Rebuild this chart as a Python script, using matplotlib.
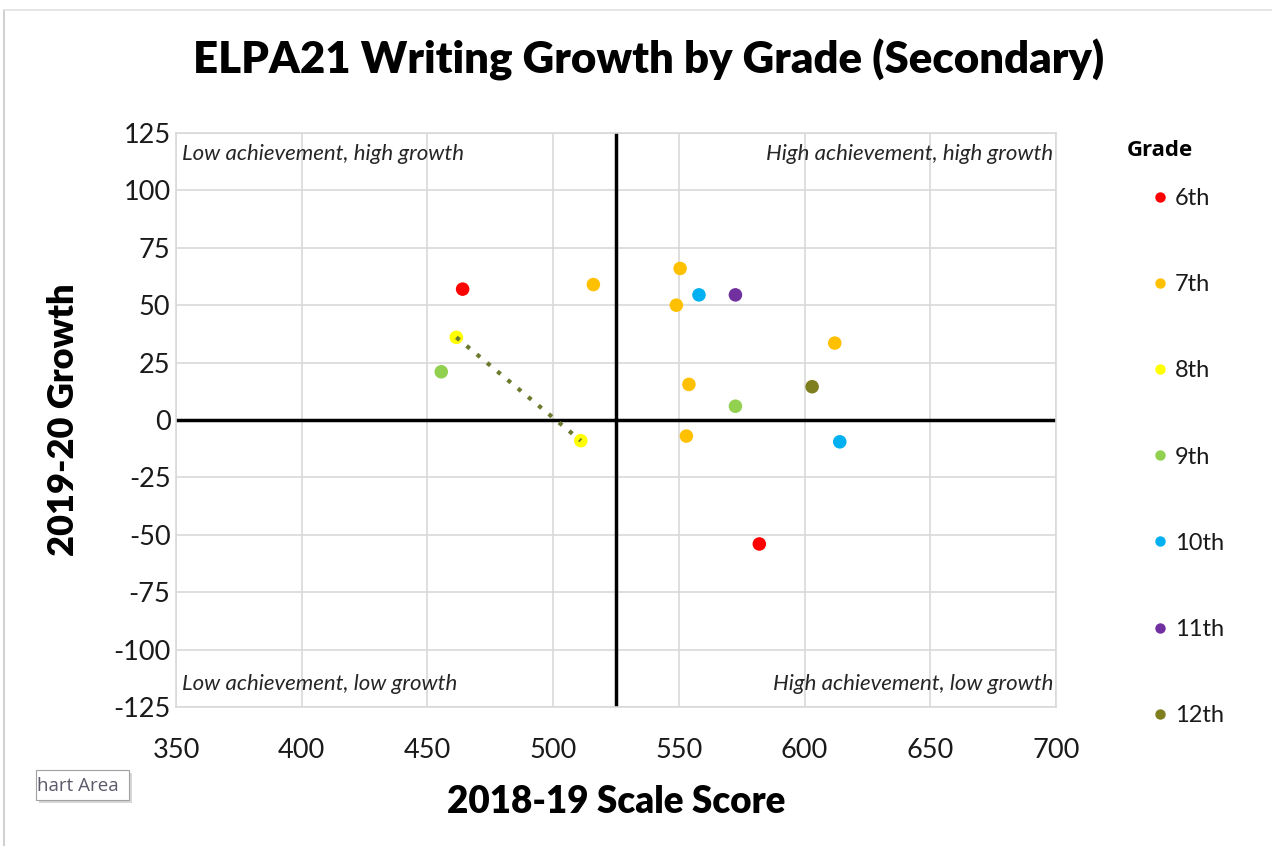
import matplotlib
matplotlib.use("Agg")
import matplotlib.pyplot as plt
from matplotlib.patches import Rectangle
from matplotlib.lines import Line2D

plt.rcParams["axes.unicode_minus"] = False

# ---- data ----
grades = ["6th", "7th", "8th", "9th", "10th", "11th", "12th"]
colors = ["#FF0000", "#FFC000", "#FFFF00", "#92D050", "#00B0F0", "#7030A0", "#7F7F1F"]
x_6 = [464, 582]
y_6 = [57, -54]
x_7 = [516, 550.5, 549, 554, 553, 612]
y_7 = [59, 66, 50, 15.5, -7, 33.5]
x_8 = [461.5, 511]
y_8 = [36, -9]
x_9 = [455.5, 572.5]
y_9 = [21, 6]
x_10 = [558, 614]
y_10 = [54.5, -9.5]
x_11 = [572.5]
y_11 = [54.5]
x_12 = [603]
y_12 = [14.5]
xs = [x_6, x_7, x_8, x_9, x_10, x_11, x_12]
ys = [y_6, y_7, y_8, y_9, y_10, y_11, y_12]
x_ticks = [350, 400, 450, 500, 550, 600, 650, 700]
y_ticks = [-125, -100, -75, -50, -25, 0, 25, 50, 75, 100, 125]
x_divider = 525
y_divider = 0
quadrant_labels = ["Low achievement, high growth", "High achievement, high growth",
                   "Low achievement, low growth", "High achievement, low growth"]

FONT = "Lato"
W, H = 1272, 846
fig = plt.figure(figsize=(W / 100, H / 100), dpi=100)
fig.patch.set_facecolor("white")

ax = fig.add_axes([176 / W, (H - 707) / H, 880 / W, 574 / H])
ax.set_xlim(350, 700)
ax.set_ylim(-125, 125)
ax.set_xticks(x_ticks)
ax.set_yticks(y_ticks)
ax.grid(True, color="#D9D9D9", linewidth=1.2)
ax.set_axisbelow(True)
for s in ax.spines.values():
    s.set_color("#D9D9D9")
    s.set_linewidth(1.2)
ax.tick_params(axis="x", length=0, pad=22, labelsize=19.5)
ax.tick_params(axis="y", length=0, pad=4, labelsize=19.5)
for lab in ax.get_xticklabels() + ax.get_yticklabels():
    lab.set_fontfamily(FONT)
    lab.set_color("#1a1a1a")

ax.axvline(x_divider, color="black", linewidth=2.5, zorder=2)
ax.axhline(y_divider, color="black", linewidth=2.5, zorder=2)

# trendline for 8th grade
ax.plot(x_8, y_8, linestyle=(0, (1, 2.2)), color="#6B7B2E", linewidth=3, zorder=4)

for g, c, xv, yv in zip(grades, colors, xs, ys):
    ax.scatter(xv, yv, s=95, color=c, edgecolors="none", zorder=3, label=g)

qkw = dict(fontsize=16, style="italic", color="#262626", family=FONT)
ax.text(0.007, 0.963, quadrant_labels[0], transform=ax.transAxes, ha="left", va="center", **qkw)
ax.text(0.997, 0.963, quadrant_labels[1], transform=ax.transAxes, ha="right", va="center", **qkw)
ax.text(0.007, 0.04, quadrant_labels[2], transform=ax.transAxes, ha="left", va="center", **qkw)
ax.text(0.997, 0.04, quadrant_labels[3], transform=ax.transAxes, ha="right", va="center", **qkw)

ax.set_xlabel("2018-19 Scale Score", fontsize=26.5, fontweight="heavy", family=FONT, labelpad=16)
ax.set_ylabel("2019-20 Growth", fontsize=26, fontweight="heavy", family=FONT, labelpad=24)

fig.text(649 / W, 1 - 60 / H, "ELPA21 Writing Growth by Grade (Secondary)",
         ha="center", va="center", fontsize=31.5, fontweight="heavy", family=FONT)

# legend
fig.text(1127 / W, 1 - 150 / H, "Grade", ha="left", va="center", fontsize=16,
         fontweight="bold", family="Open Sans")
handles = [Line2D([], [], marker="o", linestyle="none", markersize=7.5, markerfacecolor=c,
                  markeredgecolor="none") for c in colors]
leg = fig.legend(handles, grades, loc="upper left", bbox_to_anchor=(1150.5 / W, 1 - 188 / H),
                 frameon=False, labelspacing=2.76, handlelength=0.8, handletextpad=0.23,
                 borderpad=0, borderaxespad=0, prop={"family": FONT, "size": 17})
for t in leg.get_texts():
    t.set_color("#1a1a1a")

# chart frame lines
fig.add_artist(Line2D([4 / W, 4 / W], [0, 1 - 10 / H], transform=fig.transFigure,
                      color="#C8C8C8", linewidth=1.2))
fig.add_artist(Line2D([4 / W, 1], [1 - 10 / H, 1 - 10 / H], transform=fig.transFigure,
                      color="#E0E0E0", linewidth=1.2))

# "Chart Area" tooltip remnant
fig.add_artist(Rectangle((39 / W, (H - 803) / H), 93 / W, 30 / H, transform=fig.transFigure,
                         facecolor="#BDBDBD", edgecolor="none", alpha=0.6))
fig.add_artist(Rectangle((36 / W, (H - 800) / H), 93 / W, 30 / H, transform=fig.transFigure,
                         facecolor="white", edgecolor="#A0A0A0", linewidth=0.8))
fig.text(37 / W, 1 - 786 / H, "hart Area", ha="left", va="center", fontsize=13.5,
         color="#5a5a6a", family="Open Sans")

fig.savefig("out.png", dpi=100)
